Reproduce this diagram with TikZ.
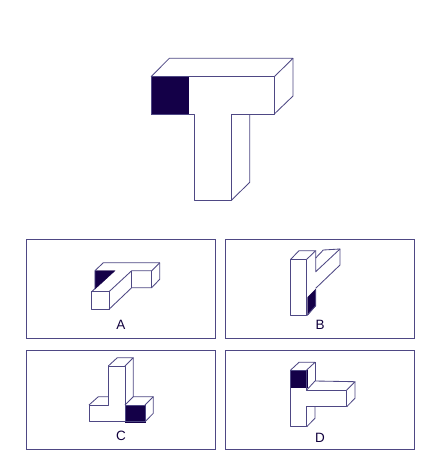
\documentclass[tikz,border=0pt]{standalone}
\usepackage{fontspec}
\setmainfont{Liberation Sans}
\definecolor{edge}{RGB}{78,72,132}
\definecolor{ink}{RGB}{20,0,72}
\tikzset{
  wire/.style={draw=edge,line width=0.85pt,line join=round},
  solid fill/.style={fill=ink,draw=ink,line width=0.4pt},
  panel/.style={draw=edge,line width=1pt},
  letter/.style={font=\fontsize{13.5}{15}\selectfont,text=ink!85!black,inner sep=0pt}
}
\begin{document}
\begin{tikzpicture}[x=1pt,y=-1pt]
\useasboundingbox (0,0) rectangle (443,474);
\fill[white] (0,0) rectangle (443,474);
% panels
\draw[panel] (26,239) rectangle (215,338);
\draw[panel] (225,239) rectangle (414,338);
\draw[panel] (26,350) rectangle (215,449);
\draw[panel] (225,350) rectangle (414,449);
% main T
\fill[solid fill] (151,76.7) rectangle (188.3,114);
\draw[wire] (151,114) -- (151,76.7) -- (274.3,76.7) -- (274.3,114) -- (231.7,114) -- (231.7,200) -- (194.3,200) -- (194.3,114) -- cycle;
\draw[wire] (151,76.7) -- (169.3,58.3) -- (293,58.3) -- (274.3,76.7);
\draw[wire] (293,58.3) -- (293,96) -- (274.3,114);
\draw[wire] (249.7,114) -- (249.7,182.3) -- (231.7,200);
% A
\fill[solid fill] (95,270.7) -- (115,270.7) -- (95,289) -- cycle;
\draw[wire] (91.7,291.7) rectangle (109,309.3);
\draw[wire] (91.7,291.7) -- (95,288.5) -- (95,270.7) -- (103.3,262.7) -- (159.7,262.7) -- (159.7,279.3) -- (151.7,287.7) -- (131.7,287.7) -- (109,309.3);
\draw[wire] (109,291.7) -- (131.7,270.7) -- (151.7,270.7) -- (159.7,262.7);
\draw[wire] (131.7,270.7) -- (131.7,287.7);
\draw[wire] (151.7,270.7) -- (151.7,287.7);
% B
\fill[solid fill] (307.7,297.3) -- (315.7,289.3) -- (315.7,305.7) -- (307.7,315) -- cycle;
\draw[wire] (290.7,259.3) rectangle (306.7,315.7);
\draw[wire] (290.7,259.3) -- (299,250.7) -- (315.7,250.7) -- (306.7,259.3);
\draw[wire] (306.7,315.7) -- (315.7,305.7) -- (315.7,289.3);
\draw[wire] (315.7,250.7) -- (315.7,271.7) -- (340,249);
\draw[wire] (315.7,258) -- (323.3,250) -- (340,249) -- (340,265) -- (315.7,288.3);
% C
\fill[solid fill] (125,405) rectangle (145,421.7);
\draw[wire] (89,405) -- (108.3,405) -- (108.3,366) -- (125,366) -- (125,421.7);
\draw[wire] (89,405) -- (89,421.7) -- (145,421.7) -- (145,405) -- (125,405);
\draw[wire] (89,405) -- (98.3,396.7) -- (108.3,396.7);
\draw[wire] (108.3,366) -- (117.3,357.7) -- (133.3,357.7) -- (125,366);
\draw[wire] (133.3,357.7) -- (133.3,396.7) -- (153.3,396.7) -- (153.3,413.3) -- (145,421.7);
\draw[wire] (125,405) -- (133.3,396.7);
\draw[wire] (145,405) -- (153.3,396.7);
% D
\fill[solid fill] (290.7,370) rectangle (306.7,386.7);
\draw[wire] (290.7,370) -- (306.7,370) -- (306.7,390) -- (346.7,390) -- (346.7,406.7) -- (306.7,406.7) -- (306.7,426.7) -- (290.7,426.7) -- cycle;
\draw[wire] (290.7,370) -- (299,362.3) -- (315,362.3) -- (306.7,370);
\draw[wire] (315,362.3) -- (315,381);
\draw[wire] (306.7,390) -- (315,381) -- (355,381.7) -- (346.7,390);
\draw[wire] (355,381.7) -- (355,398.3) -- (346.7,406.7);
\draw[wire] (306.7,426.7) -- (315,418.3) -- (315,406.7);
% labels
\node[letter] (la) at (121,325) {A};
\node[letter] (lb) at (320,325) {B};
\node[letter] (lc) at (121,435.5) {C};
\node[letter] (ld) at (320,438) {D};
\end{tikzpicture}
\end{document}
